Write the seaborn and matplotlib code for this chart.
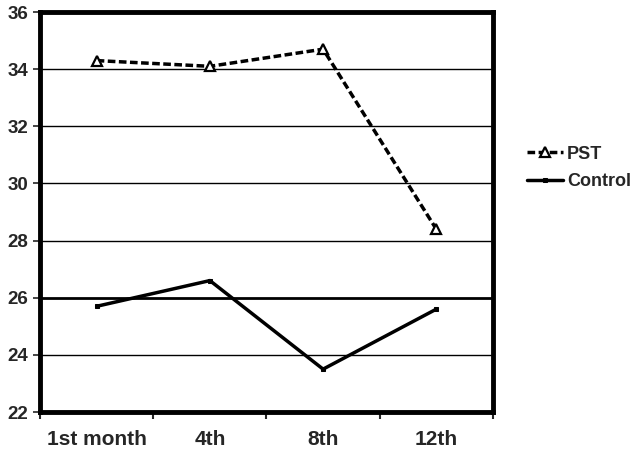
import matplotlib
matplotlib.use("Agg")
import matplotlib.pyplot as plt
import seaborn as sns
import pandas as pd
from matplotlib.ticker import FixedLocator

# данные
months = ["1st month", "4th", "8th", "12th"]
pst = [34.3, 34.1, 34.7, 28.4]
control = [25.7, 26.6, 23.5, 25.6]

sns.set_style("white")
plt.rcParams['font.family'] = ['Liberation Sans', 'DejaVu Sans']
plt.rcParams['font.weight'] = 'bold'

df = pd.DataFrame({
    "month": months * 2,
    "x": list(range(len(months))) * 2,
    "value": pst + control,
    "group": ["PST"] * len(pst) + ["Control"] * len(control),
})

fig = plt.figure(figsize=(6.36, 4.54), dpi=100)
ax = fig.add_axes([0.063, 0.0925, 0.712, 0.881])

# сетка
for yv in [24, 26, 28, 30, 32, 34]:
    ax.axhline(yv, color="black", lw=2.0 if yv == 26 else 1.0, zorder=0)

sns.lineplot(data=df[df.group == "PST"], x="x", y="value", ax=ax,
             color="black", lw=2.5, linestyle=(0, (2.2, 1.0)),
             marker="^", markersize=7, markerfacecolor="white",
             markeredgecolor="black", markeredgewidth=1.6, label="PST")
sns.lineplot(data=df[df.group == "Control"], x="x", y="value", ax=ax,
             color="black", lw=2.5, marker="s", markersize=3,
             markeredgecolor="black", markerfacecolor="black",
             label="Control")

ax.set_xlim(-0.5, 3.5)
ax.set_ylim(22, 36)
ax.set_yticks(range(22, 37, 2))
ax.set_xticks(range(len(months)))
ax.set_xticklabels(months, fontsize=15, fontweight="bold")
ax.xaxis.set_minor_locator(FixedLocator([-0.5, 0.5, 1.5, 2.5, 3.5]))
ax.tick_params(axis="x", which="major", length=0, pad=13)
ax.tick_params(axis="x", which="minor", length=5, width=1.5, direction="out", bottom=True)
ax.tick_params(axis="y", length=5, width=1.2, direction="out", left=True, labelsize=13.5)
for lab in ax.get_yticklabels():
    lab.set_fontweight("bold")
ax.set_xlabel("")
ax.set_ylabel("")

for sp in ax.spines.values():
    sp.set_linewidth(3.5)
    sp.set_color("black")

leg = ax.legend(loc="center left", bbox_to_anchor=(1.04, 0.61), frameon=False,
                fontsize=13, handlelength=2.0, handletextpad=0.2, labelspacing=0.6)
for t in leg.get_texts():
    t.set_fontweight("bold")

fig.savefig("out.png", dpi=100)
